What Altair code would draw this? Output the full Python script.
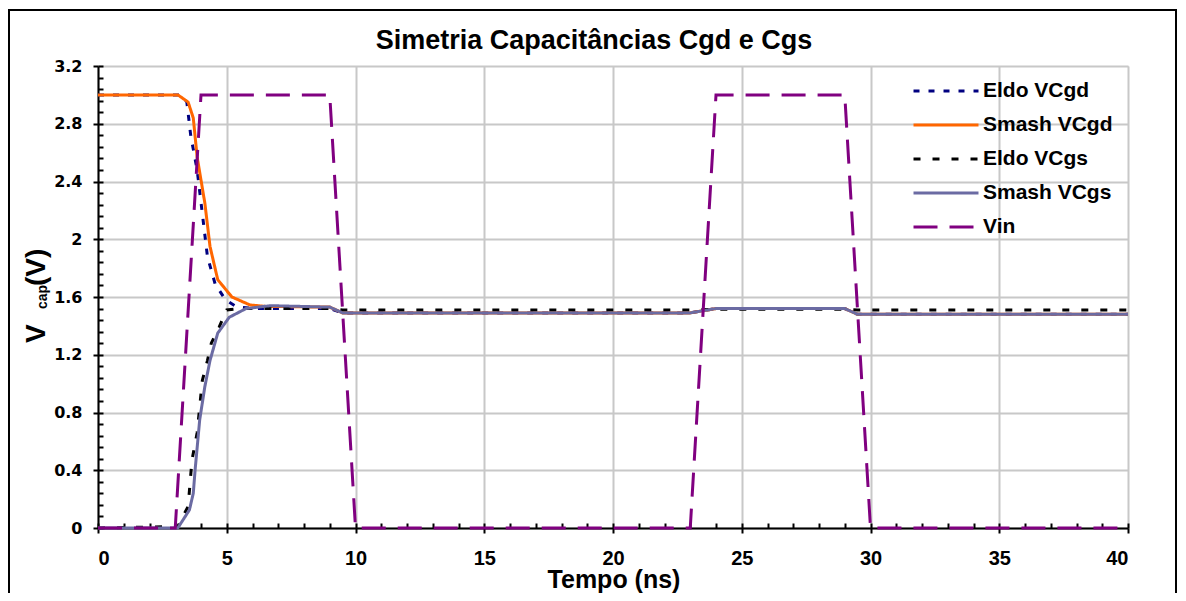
import altair as alt
import pandas as pd

# ---------------- data ----------------
series_names = ["Eldo VCgd", "Smash VCgd", "Eldo VCgs", "Smash VCgs", "Vin"]

eldo_vcgd_t = [0, 3.2, 3.45, 3.6, 3.85, 4.05, 4.25, 4.55, 4.95, 5.4, 6.2, 9.0, 9.5, 23.0, 24.0, 29.0, 29.5, 40]
eldo_vcgd_v = [3.0, 3.0, 2.95, 2.72, 2.48, 2.18, 1.88, 1.69, 1.58, 1.53, 1.52, 1.52, 1.49, 1.49, 1.52, 1.52, 1.48, 1.48]

smash_vcgd_t = [0, 3.1, 3.5, 3.7, 3.85, 4.15, 4.35, 4.65, 5.2, 5.9, 6.5, 9.0, 9.5, 23.0, 24.0, 29.0, 29.5, 40]
smash_vcgd_v = [3.0, 3.0, 2.95, 2.84, 2.57, 2.25, 1.95, 1.72, 1.60, 1.545, 1.535, 1.53, 1.49, 1.49, 1.52, 1.52, 1.48, 1.48]

eldo_vcgs_t = [0, 3.1, 3.5, 3.65, 3.85, 4.05, 4.25, 4.4, 4.7, 5.0, 5.6, 9.0, 9.5, 23.0, 24.0, 29.0, 29.5, 40]
eldo_vcgs_v = [0.0, 0.01, 0.15, 0.47, 0.66, 1.02, 1.16, 1.28, 1.39, 1.51, 1.52, 1.52, 1.51, 1.51, 1.515, 1.515, 1.51, 1.51]

smash_vcgs_t = [0, 3.1, 3.55, 3.7, 3.78, 3.95, 4.15, 4.35, 4.65, 5.1, 5.75, 6.7, 9.0, 9.5, 23.0, 24.0, 29.0, 29.5, 40]
smash_vcgs_v = [0.0, 0.0, 0.125, 0.24, 0.42, 0.75, 0.98, 1.16, 1.35, 1.46, 1.52, 1.54, 1.53, 1.49, 1.49, 1.52, 1.52, 1.48, 1.48]

vin_t = [0, 3, 4, 9, 10, 23, 24, 29, 30, 40]
vin_v = [0, 0, 3.0, 3.0, 0, 0, 3.0, 3.0, 0, 0]

x_ticks = [0, 5, 10, 15, 20, 25, 30, 35, 40]
y_ticks = [0, 0.4, 0.8, 1.2, 1.6, 2.0, 2.4, 2.8, 3.2]
x_minor = list(range(0, 41))
y_minor = [round(i * 0.08, 2) for i in range(41)]

series_colors = ["#000080", "#FF6600", "#000000", "#6B6BA3", "#800080"]
series_dash = [[6, 9], [1, 0], [7, 12], [1, 0], [24, 12]]
series_width = [3, 3, 4, 3, 4.5]

# ---------------- table ----------------
frames = []
for name, t, v in [
    ("Eldo VCgd", eldo_vcgd_t, eldo_vcgd_v),
    ("Smash VCgd", smash_vcgd_t, smash_vcgd_v),
    ("Eldo VCgs", eldo_vcgs_t, eldo_vcgs_v),
    ("Smash VCgs", smash_vcgs_t, smash_vcgs_v),
    ("Vin", vin_t, vin_v),
]:
    frames.append(pd.DataFrame({"t": t, "v": v, "series": name}))
df = pd.concat(frames, ignore_index=True)
df["k"] = range(len(df))

W, H = 1030, 462
FONT = "Liberation Sans"

xscale = alt.Scale(domain=[0, 40], nice=False, zero=False)
yscale = alt.Scale(domain=[0, 3.2], nice=False, zero=False)

legend = alt.Legend(
    title=None, orient="none", legendX=830, legendY=7,
    symbolType="M-2,0H2", symbolSize=1056, labelFont=FONT, labelFontSize=21,
    labelFontWeight="bold", labelColor="black", rowPadding=6, labelOffset=19,
    padding=0,
)

lines = alt.Chart(df).mark_line(strokeCap="butt", clip=False).encode(
    x=alt.X("t:Q", scale=xscale, axis=alt.Axis(
        orient="bottom", values=x_ticks, format="d", title=None, grid=True, gridColor="#C8C8C8", gridWidth=2,
        domainColor="black", domainWidth=2, tickColor="black", tickWidth=2, tickSize=5,
        labelFont=FONT, labelFontSize=20, labelFontWeight="bold", labelColor="black",
        labelPadding=15, zindex=0)),
    y=alt.Y("v:Q", scale=yscale, axis=alt.Axis(
        orient="left", values=y_ticks, format=".1~f", title=None, grid=True, gridColor="#C8C8C8", gridWidth=2,
        domainColor="black", domainWidth=2, tickColor="black", tickWidth=2, tickSize=5,
        labelFont="DejaVu Sans", labelFontSize=16, labelFontWeight="bold", labelColor="black",
        labelPadding=11, zindex=0)),
    color=alt.Color("series:N", scale=alt.Scale(domain=series_names, range=series_colors), legend=legend),
    strokeDash=alt.StrokeDash("series:N", scale=alt.Scale(domain=series_names, range=series_dash), legend=legend),
    strokeWidth=alt.StrokeWidth("series:N", scale=alt.Scale(domain=series_names, range=series_width), legend=legend),
    order="k:Q",
    detail="series:N",
)

minor = alt.Chart(df).mark_point(opacity=0).encode(
    x=alt.X("t:Q", scale=xscale, axis=alt.Axis(
        values=x_minor, orient="bottom", offset=-5, tickSize=5, tickWidth=2, tickColor="black",
        labels=False, domain=False, grid=False, title=None, zindex=0)),
    y=alt.Y("v:Q", scale=yscale, axis=alt.Axis(
        values=y_minor, orient="left", offset=-5, tickSize=5, tickWidth=2, tickColor="black",
        labels=False, domain=False, grid=False, title=None, zindex=0)),
)

one = pd.DataFrame({"a": [0]})
frame = alt.Chart(one).mark_rect(filled=False, stroke="black", strokeWidth=2, clip=False).encode(
    x=alt.value(-89), x2=alt.value(1078), y=alt.value(-56), y2=alt.value(540))

def txt(s, x, y, size, angle=0, align="left"):
    return alt.Chart(one).mark_text(
        text=s, font=FONT, fontSize=size, fontWeight="bold", color="black",
        align=align, baseline="alphabetic", angle=angle, clip=False,
    ).encode(x=alt.value(x), y=alt.value(y))

ytitle = txt("V", -53, 277, 28, 270) + txt("cap", -51, 243, 14, 270) + txt("(V)", -53, 220, 28, 270)
xtitle = txt("Tempo (ns)", 516, 522, 25, 0, "center")
title = txt("Simetria Capacitâncias Cgd e Cgs", 496, -17, 27, 0, "center")

chart = alt.layer(frame, minor, lines, ytitle, xtitle, title).resolve_axis(
    x="independent", y="independent"
).properties(
    width=W, height=H,
    autosize=alt.AutoSizeParams(type="none"),
    padding={"left": 90, "top": 58, "right": 50, "bottom": 65},
).configure_view(stroke=None).configure(font=FONT)

chart.save("out.html", embed_options={"renderer": "svg", "actions": False})
